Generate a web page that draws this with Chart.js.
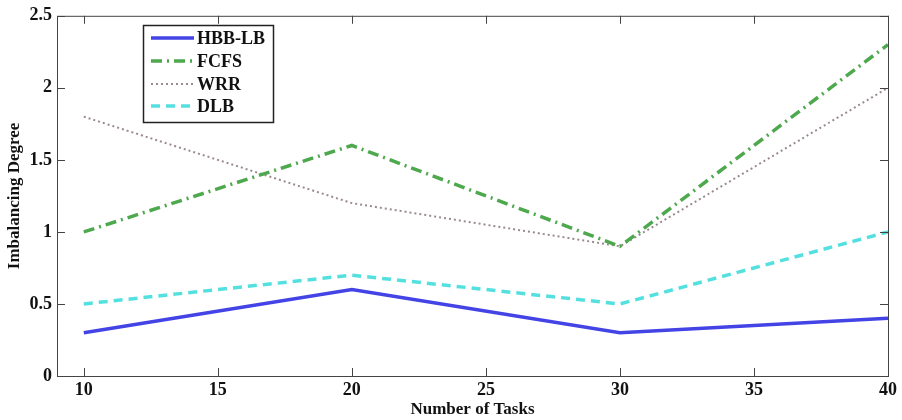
<!DOCTYPE html>
<html>
<head>
<meta charset="utf-8">
<script src="https://cdn.jsdelivr.net/npm/chart.js@4.4.1/dist/chart.umd.min.js"></script>
<style>
  html,body{margin:0;padding:0;background:#fff;}
  #wrap{width:902px;height:420px;position:relative;}
</style>
</head>
<body>
<div id="wrap"><canvas id="myChart" width="902" height="420"></canvas></div>
<script>
var tasks = [10, 20, 30, 40];
var hbbLb = [0.3, 0.6, 0.3, 0.4];
var fcfs  = [1.0, 1.6, 0.9, 2.3];
var wrr   = [1.8, 1.2, 0.9, 2.0];
var dlb   = [0.5, 0.7, 0.5, 1.0];
var xTicks = [10, 15, 20, 25, 30, 35, 40];
var yTicks = [0, 0.5, 1, 1.5, 2, 2.5];

var serif = '"Liberation Serif", "DejaVu Serif", serif';

function pts(vals){
    return vals.map(function(v,i){ return {x: tasks[i], y: v}; });
}

// matlab style box with inward ticks + legend inside the axes
var boxPlugin = {
    id: 'boxPlugin',
    afterDatasetsDraw: function(chart){
        var ctx = chart.ctx;
        var a = chart.chartArea;
        var xs = chart.scales.x, ys = chart.scales.y;
        ctx.save();
        ctx.strokeStyle = '#444';
        ctx.lineWidth = 1;
        ctx.strokeRect(a.left+0.5, a.top+0.5, a.right-a.left, a.bottom-a.top);
        ctx.beginPath();
        xTicks.forEach(function(t){
            var px = Math.round(xs.getPixelForValue(t))+0.5;
            ctx.moveTo(px, a.bottom); ctx.lineTo(px, a.bottom-8);
            ctx.moveTo(px, a.top); ctx.lineTo(px, a.top+8);
        });
        yTicks.forEach(function(t){
            var py = Math.round(ys.getPixelForValue(t))+0.5;
            ctx.moveTo(a.left, py); ctx.lineTo(a.left+8, py);
            ctx.moveTo(a.right, py); ctx.lineTo(a.right-8, py);
        });
        ctx.stroke();

        // legend
        var lx = 143, ly = 25, lw = 130, lh = 97;
        ctx.fillStyle = '#fff';
        ctx.fillRect(lx, ly, lw, lh);
        ctx.strokeStyle = '#222';
        ctx.lineWidth = 1.5;
        ctx.strokeRect(lx+0.5, ly+0.5, lw, lh);
        var rows = [38, 61, 84, 106];
        chart.data.datasets.forEach(function(ds, i){
            var y = rows[i];
            ctx.beginPath();
            ctx.strokeStyle = ds.borderColor;
            ctx.lineWidth = ds.borderWidth;
            ctx.setLineDash(ds.borderDash || []);
            ctx.moveTo(151, y); ctx.lineTo(194, y);
            ctx.stroke();
            ctx.setLineDash([]);
            ctx.fillStyle = '#111';
            ctx.font = 'bold 18px ' + serif;
            ctx.textBaseline = 'middle';
            ctx.textAlign = 'left';
            ctx.fillText(ds.label, 197, y+1);
        });
        ctx.restore();
    }
};

var ctx = document.getElementById('myChart').getContext('2d');
var myChart = new Chart(ctx, {
    type: 'line',
    data: {
        datasets: [{
            label: 'HBB-LB',
            data: pts(hbbLb),
            borderColor: '#4343e6',
            borderWidth: 3.5
        },{
            label: 'FCFS',
            data: pts(fcfs),
            borderColor: '#4ea84e',
            borderWidth: 3.5,
            borderDash: [11, 5, 2, 5]
        },{
            label: 'WRR',
            data: pts(wrr),
            borderColor: '#9a8a8e',
            borderWidth: 2,
            borderDash: [2, 3]
        },{
            label: 'DLB',
            data: pts(dlb),
            borderColor: '#55e0e0',
            borderWidth: 3.5,
            borderDash: [9, 6]
        }]
    },
    options: {
        responsive: false,
        animation: false,
        layout: { padding: { left: 0, right: 14, top: 14, bottom: 0 } },
        elements: { point: { radius: 0 }, line: { tension: 0 } },
        plugins: {
            legend: { display: false },
            tooltip: { enabled: false }
        },
        scales: {
            x: {
                type: 'linear',
                min: 9,
                max: 40,
                afterBuildTicks: function(scale){
                    scale.ticks = xTicks.map(function(v){ return {value: v}; });
                },
                afterFit: function(scale){ scale.height = 44; },
                grid: { display: false, drawTicks: false },
                border: { display: false },
                ticks: {
                    padding: 4,
                    color: '#111',
                    font: { family: serif, size: 18, weight: 'bold' },
                    maxRotation: 0,
                    callback: function(v){ return String(v); }
                },
                title: {
                    display: true,
                    text: 'Number of Tasks',
                    color: '#111',
                    padding: { top: 0, bottom: 0 },
                    font: { family: serif, size: 17, weight: 'bold' }
                }
            },
            y: {
                min: 0,
                max: 2.5,
                afterBuildTicks: function(scale){
                    scale.ticks = yTicks.map(function(v){ return {value: v}; });
                },
                afterFit: function(scale){ scale.width = 57; },
                grid: { display: false, drawTicks: false },
                border: { display: false },
                ticks: {
                    padding: 5,
                    color: '#111',
                    font: { family: serif, size: 18, weight: 'bold' },
                    callback: function(v){ return String(v); }
                },
                title: {
                    display: true,
                    text: 'Imbalancing Degree',
                    color: '#111',
                    padding: { top: 4, bottom: 0 },
                    font: { family: serif, size: 17, weight: 'bold' }
                }
            }
        }
    },
    plugins: [boxPlugin]
});
</script>
</body>
</html>
